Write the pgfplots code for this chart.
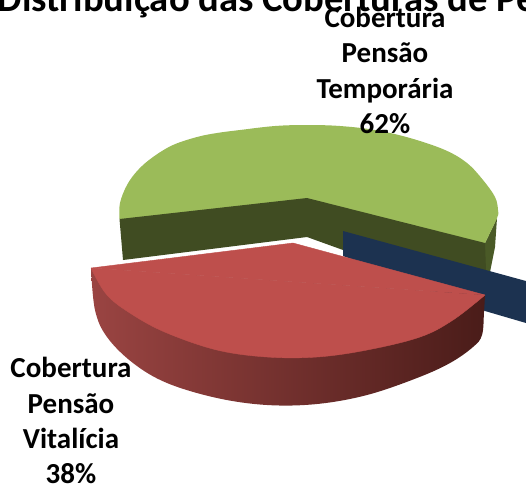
\documentclass[border=0pt]{standalone}
\usepackage{pgfplots}
\pgfplotsset{compat=1.18}
\usepackage{fontspec}
\setmainfont{Carlito}
\definecolor{grn}{HTML}{9BBB59}
\definecolor{grnin}{HTML}{404C22}
\definecolor{grnout}{HTML}{4A5A27}
\definecolor{rd}{HTML}{BE4F4C}
\definecolor{nvy}{HTML}{1C3250}
\definecolor{wallL}{HTML}{9A4442}
\definecolor{wallM}{HTML}{6E2D2B}
\definecolor{wallR}{HTML}{4A1C19}
\newcommand{\lab}[1]{\fontsize{29}{30}\selectfont\bfseries #1}
\begin{document}
\begin{tikzpicture}[x=1pt,y=1pt]
\path[use as bounding box,clip] (0,0) rectangle (526,483);
\begin{axis}[at={(0,0)},anchor=south west,scale only axis,width=526pt,height=483pt,
  xmin=0,xmax=526,ymin=0,ymax=483,y dir=reverse,axis lines=none,clip=false]
% title
\node[anchor=base west,inner sep=0pt] at (axis cs:-2.5,11.5) {\fontsize{38.6}{40}\selectfont\bfseries Distribuição das Coberturas de Pensão};
% green outer wall
\addplot[draw=none,fill=grnout] coordinates {(485,243)(497,218)(495,247)(490,272)(483,270)} -- cycle;
% green top: rim (its closing chord is covered by the inner walls below)
\addplot[draw=none,fill=grn,smooth,tension=0.6] coordinates {(119.5,219)(120,203)(127,185)(138,170)(153,157)(173,145)(197,137)(217,133)(240,130)(275,126)(307,125)(340,126)(375,130)(410,138)(445,150)(467,163)(483,180)(495,197)(498,210)(497,218)(485,243)};
% green inner walls
\addplot[draw=none,fill=grnin] coordinates {(119.5,219)(307,198)(485,243)(486,271)(343,250)(307,237)(123,260)} -- cycle;
% navy slice (cropped at the right border)
\addplot[draw=none,fill=nvy] coordinates {(343,231)(526,281)(526,323)(485,311)(343,256)} -- cycle;
% red wall
\addplot[draw=none,left color=wallL,middle color=wallM,right color=wallR,smooth,tension=0.6]
 coordinates {(91,268)(95,310)(107,337)(133,363)(167,383)(217,398)(267,405)(317,404)(367,395)(417,378)(450,363)(473,347)(482,335)(484,312)(485,295)};
% red top: rim, then the wedge to the centre
\addplot[draw=rd,line width=0.4pt,fill=rd,smooth,tension=0.6] coordinates {(91,268)(107,295)(133,315)(167,333)(217,350)(267,357)(317,357)(367,350)(420,337)(453,320)(485,295)};
\addplot[draw=rd,line width=0.4pt,fill=rd] coordinates {(91,268)(293,243)(485,295)} -- cycle;
% labels
\node[anchor=base,inner sep=0pt] at (axis cs:385,27) {\lab{Cobertura}};
\node[anchor=base,inner sep=0pt] at (axis cs:385,62) {\lab{Pensão}};
\node[anchor=base,inner sep=0pt] at (axis cs:385,98) {\lab{Temporária}};
\node[anchor=base,inner sep=0pt] at (axis cs:385,133) {\lab{62\%}};
\node[anchor=base,inner sep=0pt] at (axis cs:71,377) {\lab{Cobertura}};
\node[anchor=base,inner sep=0pt] at (axis cs:71,413) {\lab{Pensão}};
\node[anchor=base,inner sep=0pt] at (axis cs:71,448) {\lab{Vitalícia}};
\node[anchor=base,inner sep=0pt] at (axis cs:71,483) {\lab{38\%}};
\end{axis}
\end{tikzpicture}
\end{document}
